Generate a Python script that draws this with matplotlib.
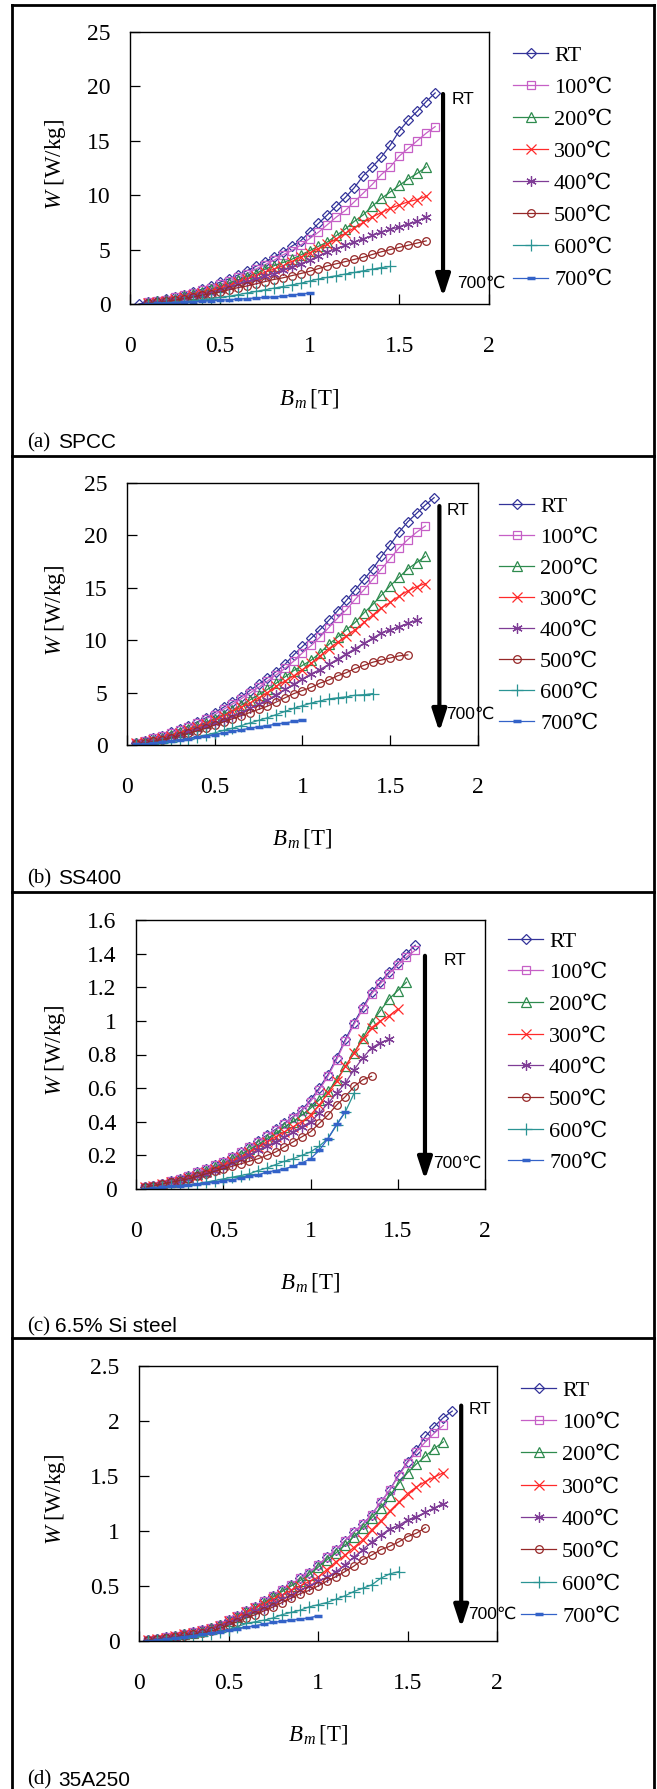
import matplotlib
matplotlib.use('Agg')
import matplotlib.pyplot as plt
from matplotlib.lines import Line2D

# measurement grid of B_m [T] (every curve is sampled on this grid)
B_GRID = [0.05, 0.10, 0.15, 0.20, 0.25, 0.30, 0.35, 0.40, 0.45, 0.50,
          0.55, 0.60, 0.65, 0.70, 0.75, 0.80, 0.85, 0.90, 0.95, 1.00,
          1.05, 1.10, 1.15, 1.20, 1.25, 1.30, 1.35, 1.40, 1.45, 1.50,
          1.55, 1.60, 1.65, 1.70, 1.75]

LABELS = ['RT', '100℃', '200℃', '300℃', '400℃', '500℃', '600℃', '700℃']
COLORS = ['#333399', '#C65FC6', '#2E8B4E', '#FF2A2A', '#7F3C96', '#962828', '#2A9494', '#3362C8']

# (a) SPCC  -> (first B value, W values)
a_data = [
    (0.05, [0.0, 0.15, 0.3, 0.45, 0.65, 0.85, 1.1, 1.35, 1.65, 2.0, 2.3, 2.65, 3.05, 3.45, 3.85, 4.3, 4.75,
            5.3, 5.8, 6.6, 7.4, 8.2, 9.0, 9.8, 10.7, 11.8, 12.6, 13.5, 14.6, 15.9, 16.9, 17.7, 18.6, 19.4]),
    (0.10, [0.15, 0.3, 0.4, 0.6, 0.8, 1.0, 1.25, 1.5, 1.8, 2.1, 2.45, 2.8, 3.2, 3.6, 4.0, 4.5, 4.9, 5.4,
            6.0, 6.6, 7.3, 8.0, 8.6, 9.4, 10.2, 11.0, 11.9, 12.6, 13.6, 14.3, 15.0, 15.7, 16.3]),
    (0.10, [0.1, 0.25, 0.35, 0.5, 0.7, 0.9, 1.1, 1.35, 1.6, 1.9, 2.2, 2.5, 2.8, 3.2, 3.5, 3.8, 4.1, 4.5,
            4.9, 5.3, 5.7, 6.3, 6.9, 7.6, 8.2, 9.0, 9.7, 10.3, 10.9, 11.5, 12.0, 12.6]),
    (0.10, [0.1, 0.2, 0.3, 0.45, 0.6, 0.8, 1.0, 1.2, 1.45, 1.7, 2.0, 2.3, 2.6, 2.9, 3.2, 3.5, 3.9, 4.3,
            4.7, 5.1, 5.5, 6.0, 6.5, 7.0, 7.5, 8.0, 8.4, 8.8, 9.1, 9.4, 9.6, 9.9]),
    (0.10, [0.1, 0.15, 0.25, 0.4, 0.55, 0.7, 0.85, 1.05, 1.3, 1.55, 1.8, 2.05, 2.3, 2.55, 2.8, 3.1, 3.4,
            3.7, 4.0, 4.4, 4.8, 5.1, 5.4, 5.7, 6.0, 6.3, 6.6, 6.85, 7.1, 7.35, 7.6, 8.0]),
    (0.10, [0.1, 0.15, 0.25, 0.35, 0.5, 0.65, 0.8, 0.95, 1.1, 1.3, 1.5, 1.65, 1.85, 2.05, 2.25, 2.4, 2.6,
            2.8, 3.0, 3.25, 3.5, 3.7, 3.9, 4.1, 4.3, 4.55, 4.8, 5.0, 5.2, 5.4, 5.6, 5.8]),
    (0.10, [0.0, 0.05, 0.1, 0.15, 0.2, 0.3, 0.4, 0.5, 0.6, 0.7, 0.85, 1.0, 1.15, 1.3, 1.45, 1.6, 1.75,
            1.9, 2.1, 2.3, 2.45, 2.6, 2.75, 2.9, 3.05, 3.2, 3.35, 3.45]),
    (0.10, [0.03, 0.05, 0.08, 0.11, 0.15, 0.2, 0.25, 0.3, 0.35, 0.4, 0.45, 0.5, 0.55, 0.6, 0.65, 0.72,
            0.82, 0.92, 1.0]),
]

# (b) SS400
b_data = [
    (0.05, [0.2, 0.4, 0.7, 0.9, 1.2, 1.5, 1.8, 2.2, 2.6, 3.1, 3.6, 4.1, 4.6, 5.2, 5.8, 6.4, 7.0, 7.7, 8.6,
            9.4, 10.2, 11.0, 11.9, 12.8, 13.8, 14.8, 15.8, 16.8, 18.0, 19.1, 20.3, 21.3, 22.1, 22.9, 23.6]),
    (0.05, [0.2, 0.4, 0.65, 0.9, 1.15, 1.45, 1.75, 2.1, 2.5, 2.9, 3.4, 3.9, 4.4, 4.95, 5.5, 6.1, 6.7, 7.3,
            8.0, 8.8, 9.5, 10.3, 11.2, 12.1, 12.9, 13.9, 14.8, 15.8, 16.8, 17.8, 18.8, 19.6, 20.3, 20.9]),
    (0.05, [0.15, 0.3, 0.5, 0.7, 0.95, 1.2, 1.5, 1.8, 2.1, 2.5, 2.9, 3.3, 3.8, 4.3, 4.8, 5.3, 5.9, 6.5,
            7.1, 7.6, 8.1, 8.8, 9.6, 10.3, 11.0, 11.7, 12.6, 13.4, 14.3, 15.2, 16.0, 16.8, 17.4, 18.0]),
    (0.05, [0.15, 0.3, 0.5, 0.7, 0.9, 1.15, 1.4, 1.7, 2.0, 2.4, 2.8, 3.2, 3.6, 4.0, 4.5, 5.0, 5.6, 6.1,
            6.6, 7.2, 7.8, 8.5, 9.2, 9.8, 10.4, 11.0, 11.7, 12.4, 13.1, 13.6, 14.2, 14.7, 15.1, 15.4]),
    (0.05, [0.1, 0.25, 0.4, 0.6, 0.8, 1.0, 1.25, 1.5, 1.8, 2.1, 2.4, 2.8, 3.1, 3.5, 3.9, 4.3, 4.8, 5.3,
            5.8, 6.3, 6.8, 7.2, 7.7, 8.2, 8.7, 9.2, 9.7, 10.2, 10.7, 11.0, 11.3, 11.6, 11.9]),
    (0.05, [0.1, 0.2, 0.35, 0.5, 0.7, 0.9, 1.1, 1.35, 1.6, 1.9, 2.2, 2.5, 2.8, 3.1, 3.4, 3.7, 4.1, 4.5,
            4.9, 5.2, 5.5, 5.9, 6.2, 6.6, 6.9, 7.3, 7.6, 7.9, 8.1, 8.3, 8.5, 8.6]),
    (0.05, [0.0, 0.05, 0.1, 0.2, 0.3, 0.45, 0.6, 0.75, 0.95, 1.15, 1.4, 1.6, 1.85, 2.1, 2.35, 2.6, 2.9,
            3.2, 3.5, 3.75, 4.0, 4.2, 4.4, 4.5, 4.6, 4.75, 4.8, 4.9]),
    (0.05, [0.05, 0.1, 0.2, 0.3, 0.4, 0.5, 0.6, 0.75, 0.85, 1.0, 1.15, 1.3, 1.45, 1.6, 1.75, 1.85, 2.0,
            2.1, 2.25, 2.4]),
]

# (c) 6.5% Si steel
c_data = [
    (0.05, [0.01, 0.02, 0.03, 0.045, 0.06, 0.08, 0.1, 0.12, 0.14, 0.16, 0.19, 0.22, 0.25, 0.285, 0.32,
            0.355, 0.39, 0.43, 0.47, 0.53, 0.6, 0.68, 0.78, 0.89, 0.99, 1.08, 1.17, 1.23, 1.29, 1.345,
            1.40, 1.45]),
    (0.05, [0.01, 0.02, 0.03, 0.045, 0.06, 0.08, 0.1, 0.12, 0.14, 0.16, 0.19, 0.22, 0.25, 0.28, 0.315,
            0.35, 0.385, 0.425, 0.465, 0.52, 0.59, 0.67, 0.77, 0.88, 0.98, 1.07, 1.16, 1.22, 1.28, 1.33,
            1.38, 1.42]),
    (0.05, [0.01, 0.02, 0.03, 0.04, 0.055, 0.07, 0.09, 0.11, 0.13, 0.15, 0.18, 0.205, 0.235, 0.265, 0.3,
            0.33, 0.37, 0.4, 0.44, 0.48, 0.53, 0.58, 0.65, 0.73, 0.81, 0.9, 0.99, 1.06, 1.13, 1.18, 1.23]),
    (0.05, [0.01, 0.02, 0.03, 0.04, 0.05, 0.065, 0.08, 0.1, 0.12, 0.14, 0.165, 0.19, 0.22, 0.25, 0.28,
            0.31, 0.34, 0.37, 0.4, 0.44, 0.5, 0.57, 0.64, 0.73, 0.81, 0.89, 0.96, 1.0, 1.03, 1.07]),
    (0.05, [0.01, 0.02, 0.03, 0.04, 0.05, 0.06, 0.075, 0.09, 0.11, 0.13, 0.155, 0.18, 0.205, 0.23, 0.255,
            0.28, 0.31, 0.34, 0.37, 0.4, 0.45, 0.51, 0.57, 0.63, 0.71, 0.78, 0.84, 0.87, 0.89]),
    (0.05, [0.01, 0.02, 0.03, 0.04, 0.05, 0.06, 0.075, 0.09, 0.105, 0.12, 0.135, 0.15, 0.165, 0.18, 0.2,
            0.22, 0.25, 0.28, 0.31, 0.34, 0.39, 0.44, 0.5, 0.55, 0.61, 0.65, 0.67]),
    (0.05, [0.0, 0.005, 0.01, 0.015, 0.02, 0.025, 0.03, 0.04, 0.05, 0.06, 0.07, 0.08, 0.09, 0.11, 0.125,
            0.145, 0.165, 0.18, 0.2, 0.22, 0.255, 0.3, 0.38, 0.46, 0.57]),
    (0.05, [0.0, 0.005, 0.01, 0.015, 0.02, 0.025, 0.03, 0.035, 0.04, 0.05, 0.055, 0.065, 0.075, 0.085,
            0.1, 0.11, 0.12, 0.135, 0.155, 0.18, 0.23, 0.3, 0.385, 0.46]),
]

# (d) 35A250
d_data = [
    (0.05, [0.01, 0.02, 0.035, 0.05, 0.065, 0.08, 0.1, 0.12, 0.15, 0.19, 0.23, 0.27, 0.31, 0.36, 0.41,
            0.46, 0.51, 0.57, 0.62, 0.69, 0.76, 0.83, 0.91, 0.99, 1.06, 1.15, 1.26, 1.37, 1.51, 1.63,
            1.74, 1.86, 1.95, 2.03, 2.09]),
    (0.05, [0.01, 0.02, 0.035, 0.05, 0.065, 0.08, 0.1, 0.12, 0.15, 0.19, 0.23, 0.27, 0.31, 0.36, 0.41,
            0.46, 0.51, 0.57, 0.62, 0.69, 0.76, 0.83, 0.91, 0.99, 1.06, 1.15, 1.26, 1.37, 1.5, 1.62,
            1.72, 1.81, 1.89, 1.96]),
    (0.05, [0.01, 0.02, 0.03, 0.045, 0.06, 0.075, 0.09, 0.115, 0.145, 0.18, 0.22, 0.26, 0.30, 0.35, 0.40,
            0.45, 0.50, 0.55, 0.60, 0.67, 0.74, 0.80, 0.87, 0.95, 1.03, 1.12, 1.21, 1.32, 1.43, 1.53,
            1.61, 1.68, 1.75, 1.81]),
    (0.05, [0.01, 0.02, 0.03, 0.045, 0.06, 0.075, 0.09, 0.11, 0.14, 0.18, 0.22, 0.26, 0.30, 0.34, 0.38,
            0.42, 0.46, 0.50, 0.54, 0.58, 0.65, 0.72, 0.78, 0.85, 0.92, 1.01, 1.09, 1.18, 1.26, 1.34,
            1.40, 1.45, 1.49, 1.53]),
    (0.05, [0.01, 0.02, 0.03, 0.04, 0.055, 0.07, 0.09, 0.11, 0.14, 0.17, 0.20, 0.24, 0.27, 0.30, 0.34,
            0.38, 0.42, 0.46, 0.50, 0.545, 0.58, 0.63, 0.69, 0.76, 0.83, 0.90, 0.96, 1.02, 1.05, 1.10,
            1.13, 1.17, 1.21, 1.25]),
    (0.05, [0.01, 0.015, 0.025, 0.035, 0.05, 0.06, 0.075, 0.09, 0.115, 0.145, 0.175, 0.21, 0.24, 0.275,
            0.31, 0.35, 0.39, 0.43, 0.46, 0.50, 0.545, 0.585, 0.63, 0.68, 0.74, 0.78, 0.83, 0.86, 0.90,
            0.95, 0.98, 1.03]),
    (0.05, [0.0, 0.005, 0.01, 0.02, 0.03, 0.04, 0.05, 0.065, 0.08, 0.1, 0.13, 0.16, 0.175, 0.19, 0.21,
            0.24, 0.26, 0.28, 0.31, 0.33, 0.35, 0.38, 0.41, 0.45, 0.48, 0.51, 0.57, 0.61, 0.63]),
    (0.05, [0.0, 0.01, 0.02, 0.03, 0.04, 0.05, 0.06, 0.07, 0.085, 0.1, 0.11, 0.125, 0.14, 0.155, 0.17,
            0.18, 0.19, 0.2, 0.21, 0.23]),
]

a_yticks = [0, 5, 10, 15, 20, 25]
b_yticks = [0, 5, 10, 15, 20, 25]
c_yticks = [0, 0.2, 0.4, 0.6, 0.8, 1.0, 1.2, 1.4, 1.6]
d_yticks = [0, 0.5, 1.0, 1.5, 2.0, 2.5]
x_ticks = [0, 0.5, 1.0, 1.5, 2.0]

SERIF = ['Liberation Serif', 'DejaVu Serif', 'Noto Sans CJK JP']
SANS = ['Liberation Sans', 'DejaVu Sans']
plt.rcParams['font.family'] = SERIF
plt.rcParams['font.size'] = 16
plt.rcParams['mathtext.fontset'] = 'custom'
plt.rcParams['mathtext.rm'] = 'Liberation Serif'
plt.rcParams['mathtext.it'] = 'Liberation Serif:italic'

STYLES = [
    dict(marker='D', ms=5, mfc='none'),
    dict(marker='s', ms=5.5, mfc='none'),
    dict(marker='^', ms=6.5, mfc='none'),
    dict(marker='x', ms=6.5),
    dict(marker=(6, 2, 0), ms=7.5),
    dict(marker='o', ms=5.5, mfc='none'),
    dict(marker='+', ms=8),
    dict(marker='_', ms=6, mew=2.5),
]

W, H = 657, 1789
fig = plt.figure(figsize=(W / 100, H / 100), dpi=100)


def fx(px):
    return px / W


def fy(py):
    return 1 - py / H


def fmt(v):
    return '%g' % v


# panel layout in pixels: axes box (left, top, right, bottom), legend anchor, arrow (data), label
panels = [
    dict(data=a_data, yticks=a_yticks, box=(130, 32, 489, 304), leg=(513, 45), ls=0.52,
         arrow=(1.744, 19.3, 0.64), rt=(1.79, 18.75), hot=(1.82, 1.93),
         tag='(a)', name='SPCC', tag_y=443, name_x=58),
    dict(data=b_data, yticks=b_yticks, box=(127, 483, 478, 745), leg=(499, 496), ls=0.47,
         arrow=(1.78, 22.8, 1.24), rt=(1.82, 22.4), hot=(1.82, 2.96),
         tag='(b)', name='SS400', tag_y=879, name_x=58),
    dict(data=c_data, yticks=c_yticks, box=(136, 920, 485, 1189), leg=(508, 931), ls=0.50,
         arrow=(1.656, 1.387, 0.054), rt=(1.765, 1.357), hot=(1.70, 0.155),
         tag='(c)', name='6.5% Si steel', tag_y=1327, name_x=55),
    dict(data=d_data, yticks=d_yticks, box=(139, 1366, 497, 1641), leg=(521, 1380), ls=0.53,
         arrow=(1.80, 2.14, 0.12), rt=(1.84, 2.10), hot=(1.84, 0.24),
         tag='(d)', name='35A250', tag_y=1780, name_x=58),
]

for p in panels:
    l, t, r, b = p['box']
    ax = fig.add_axes([fx(l), fy(b), fx(r) - fx(l), (b - t) / H])
    for (start, vals), lab, col, st in zip(p['data'], LABELS, COLORS, STYLES):
        i0 = B_GRID.index(start)
        xs = B_GRID[i0:i0 + len(vals)]
        ax.plot(xs, vals, color=col, lw=0.9, mec=col, label=lab,
                **{k: v for k, v in st.items() if k != 'mew'}, mew=st.get('mew', 0.9))
    ax.set_xlim(0, 2)
    ax.set_ylim(p['yticks'][0], p['yticks'][-1])
    ax.set_xticks(x_ticks)
    ax.set_xticklabels([fmt(v) for v in x_ticks])
    ax.set_yticks(p['yticks'])
    ax.set_yticklabels([fmt(v) for v in p['yticks']])
    ax.tick_params(direction='in', length=7, width=0.9, labelsize=17, top=False, right=False)
    ax.tick_params(axis='y', pad=14)
    ax.tick_params(axis='x', pad=23)
    for s in ax.spines.values():
        s.set_linewidth(1.0)

    # temperature arrow
    xa, ytop, ybot = p['arrow']
    ax.annotate('', xy=(xa, ybot), xytext=(xa, ytop),
                arrowprops=dict(arrowstyle='-|>,head_width=0.36,head_length=1.1', color='black',
                                lw=3, shrinkA=0, shrinkB=0, mutation_scale=12))
    ax.text(p['rt'][0], p['rt'][1], 'RT', family=SANS, fontsize=12.5, ha='left', va='center')
    ax.text(p['hot'][0], p['hot'][1], '700℃', family=SANS, fontsize=12.5, ha='left', va='center',
            clip_on=False)

    ax.legend(loc='upper left', bbox_to_anchor=(fx(p['leg'][0]), fy(p['leg'][1])),
              bbox_transform=fig.transFigure, frameon=False, numpoints=1,
              handlelength=1.58, handletextpad=0.27, borderpad=0, borderaxespad=0,
              labelspacing=p['ls'], prop={'family': SERIF, 'size': 16})

    # axis titles
    fig.text(fx(55), fy((t + b) / 2 - 4), '$W$ [W/kg]', rotation=90, ha='center', va='center',
             fontsize=16.5)
    fig.text(fx((l + r) / 2), fy(b + 94), '$B_{\\,m}\\,$[T]', ha='center', va='center', fontsize=16.5)

    # panel caption
    fig.text(fx(27), fy(p['tag_y']), p['tag'], fontsize=15, va='center')
    fig.text(fx(p['name_x']), fy(p['tag_y']), p['name'], family=SANS, fontsize=15, va='center')

# outer frame and separators
frame_kw = dict(color='black', lw=2, transform=fig.transFigure)
fig.add_artist(Line2D([fx(12), fx(12)], [fy(5), 0], **frame_kw))
fig.add_artist(Line2D([fx(654), fx(654)], [fy(5), 0], **frame_kw))
for yy in [5, 456, 892, 1338]:
    fig.add_artist(Line2D([fx(12), fx(654)], [fy(yy), fy(yy)], **frame_kw))

fig.savefig('out.png', dpi=100)
